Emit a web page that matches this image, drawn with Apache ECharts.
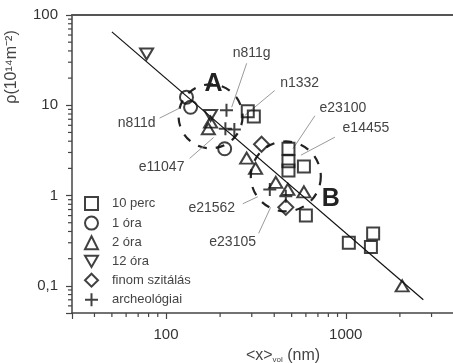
<!DOCTYPE html>
<html>
<head>
<meta charset="utf-8">
<script src="https://cdn.jsdelivr.net/npm/echarts@6/dist/echarts.min.js"></script>
<style>
    html, body { margin: 0; padding: 0; background: #fff; }
    #chart { width: 453px; height: 363px; }
</style>
</head>
<body>
<div id="chart"></div>
<script>
// mért pontok: [<x>vol (nm), rho (10^14 m^-2)]
const perc10 = [[285, 8.6], [308, 7.5], [480, 3.3], [480, 2.4], [480, 1.9], [585, 2.1], [600, 0.6], [1040, 0.30], [1420, 0.38], [1380, 0.27]]
const ora1 = [[130, 12.3], [137, 9.5], [212, 3.3]]
const ora2 = [[177, 6.5], [172, 5.5], [281, 2.6], [315, 2.0], [408, 1.4], [476, 1.17], [585, 1.1], [2060, 0.1]]
const ora12 = [[78, 37], [177, 7.7]]
const szitalas = [[340, 3.7], [464, 0.74]]
const archeo = [[217, 8.8], [214, 5.5], [240, 5.4], [378, 1.17], [464, 0.98]]
// illesztett egyenes
const fitLine = [[50, 65], [2700, 0.07]]

// minta feliratok és a vonal végpontja
const sampleNames = ['n811g', 'n1332', 'e23100', 'e14455', 'n811d', 'e11047', 'e21562', 'e23105']
const samplePoints = [[232, 9.5], [274, 7.7], [508, 3.3], [563, 2.8], [119, 9.3], [184, 4.4], [324, 0.97], [382, 0.74]]

// csoportok (A, B)
const groupNames = ['A', 'B']
const groupCenters = [[177, 7.55], [464, 1.63]]

// tengelyek
const xMin = 30, xMax = 4000, yMin = 0.05, yMax = 100
const xMinorTicks = [40, 50, 60, 70, 80, 90, 200, 300, 400, 500, 600, 700, 800, 900, 2000, 3000]
const yMinorTicks = [0.06, 0.07, 0.08, 0.09, 0.2, 0.3, 0.4, 0.5, 0.6, 0.7, 0.8, 0.9,
    2, 3, 4, 5, 6, 7, 8, 9, 20, 30, 40, 50, 60, 70, 80, 90]

// elrendezés: [vonal kezdete dx, dy, felirat dx, dy] pixelben
const labelLayout = [[15, -44, 20, -54], [30, -25, 55, -32], [22, -33, 50, -41], [34, -18, 65, -27],
    [-20, 10, -43, 15], [-24, 21, -52, 30], [-15, 7, -46, 11], [-12, 26, -38, 35]]
const groupLayout = [[32, 3, -32], [35, 45, 23]] // sugár, betű dx, dy

const font = '"Liberation Sans", Arial, Helvetica, sans-serif'
const ink = '#111'

function powLabel (v) {
    let l = Math.log10(v)
    let e = Math.round(l)
    if (Math.abs(l - e) > 1e-6) return ''
    return e >= 0 ? String(Math.pow(10, e)) : '0,' + '0'.repeat(-e - 1) + '1'
}

let tickData = xMinorTicks.map(v => [v, yMin, 0]).concat(yMinorTicks.map(v => [xMin, v, 1]))

function scatter (name, data, symbol, size) {
    return {
        name: name,
        type: 'scatter',
        data: data,
        symbol: symbol,
        symbolSize: size,
        z: 5,
        itemStyle: { color: 'rgba(0,0,0,0)', borderColor: ink, borderWidth: 2 }
    }
}

let myChart = echarts.init(document.getElementById('chart'))
myChart.setOption({
    animation: false,
    grid: { left: 72, top: 15, right: -1, bottom: 50, containLabel: false, outerBoundsMode: 'none' },
    legend: {
        orient: 'vertical',
        left: 84,
        top: 196,
        padding: 0,
        itemWidth: 13,
        itemHeight: 13,
        itemGap: 4.6,
        itemStyle: { color: 'rgba(0,0,0,0)', borderColor: ink, borderWidth: 2 },
        textStyle: { fontSize: 13, lineHeight: 13, color: '#444', fontFamily: font, padding: [0, 0, 0, 9] },
        data: ['10 perc', '1 óra', '2 óra', '12 óra', 'finom szitálás', 'archeológiai']
    },
    xAxis: [
        {
            type: 'log',
            logBase: 10,
            min: xMin,
            max: xMax,
            name: '<x>{sub|vol} (nm)',
            nameLocation: 'middle',
            nameGap: 34,
            nameTextStyle: {
                fontSize: 16, color: '#444', fontFamily: font, padding: [0, 0, 0, 40],
                rich: { sub: { fontSize: 8, fontFamily: font, color: '#444', padding: [9, 0, 0, 0] } }
            },
            axisLine: { show: true, lineStyle: { color: '#444', width: 1.5 } },
            axisTick: { show: true, length: 6, lineStyle: { color: '#444', width: 1.2 } },
            axisLabel: { fontSize: 15, color: '#333', fontFamily: font, margin: 14, formatter: powLabel },
            splitLine: { show: false }
        },
        {
            type: 'log',
            position: 'top',
            min: xMin,
            max: xMax,
            axisLine: { show: true, lineStyle: { color: '#555', width: 2 } },
            axisTick: { show: false },
            axisLabel: { show: false },
            splitLine: { show: false }
        }
    ],
    yAxis: {
        type: 'log',
        logBase: 10,
        min: yMin,
        max: yMax,
        axisLine: { show: true, lineStyle: { color: '#444', width: 1.5 } },
        axisTick: { show: true, length: 6, lineStyle: { color: '#444', width: 1.2 } },
        axisLabel: { fontSize: 15, color: '#333', fontFamily: font, margin: 14, formatter: powLabel },
        splitLine: { show: false }
    },
    graphic: [{
        type: 'text',
        x: 12,
        y: 67,
        rotation: Math.PI / 2,
        style: { text: 'ρ(10¹⁴m⁻²)', fontSize: 16, fontFamily: font, fill: '#444', align: 'center', verticalAlign: 'middle' }
    }],
    series: [
        {
            // kis osztásvonalak
            type: 'custom',
            clip: false,
            silent: true,
            data: tickData,
            encode: { x: 0, y: 1 },
            renderItem: function (params, api) {
                let p = api.coord([api.value(0), api.value(1)])
                let vertical = api.value(2) === 0
                return {
                    type: 'line',
                    shape: vertical
                        ? { x1: p[0], y1: p[1], x2: p[0], y2: p[1] + 4 }
                        : { x1: p[0] - 4, y1: p[1], x2: p[0], y2: p[1] },
                    style: { stroke: '#444', lineWidth: 1.2 }
                }
            }
        },
        {
            // szaggatott körök
            type: 'custom',
            clip: false,
            silent: true,
            z: 3,
            data: groupCenters,
            encode: { x: 0, y: 1 },
            renderItem: function (params, api) {
                let i = params.dataIndex
                let p = api.coord([api.value(0), api.value(1)])
                let g = groupLayout[i]
                return {
                    type: 'group',
                    children: [
                        {
                            type: 'circle',
                            shape: { cx: p[0], cy: p[1], r: g[0] },
                            style: { fill: 'none', stroke: '#222', lineWidth: 2.2, lineDash: [9, 9] }
                        },
                        {
                            type: 'text',
                            x: p[0] + g[1],
                            y: p[1] + g[2],
                            style: {
                                text: groupNames[i], fontSize: 25, fontWeight: 'bold', fontFamily: font,
                                fill: '#222', align: 'center', verticalAlign: 'middle'
                            }
                        }
                    ]
                }
            }
        },
        {
            // minta feliratok
            type: 'custom',
            clip: false,
            silent: true,
            z: 4,
            data: samplePoints,
            encode: { x: 0, y: 1 },
            renderItem: function (params, api) {
                let i = params.dataIndex
                let p = api.coord([api.value(0), api.value(1)])
                let o = labelLayout[i]
                return {
                    type: 'group',
                    children: [
                        {
                            type: 'line',
                            shape: { x1: p[0], y1: p[1], x2: p[0] + o[0], y2: p[1] + o[1] },
                            style: { stroke: '#999', lineWidth: 1 }
                        },
                        {
                            type: 'text',
                            x: p[0] + o[2],
                            y: p[1] + o[3],
                            style: {
                                text: sampleNames[i], fontSize: 14, fontFamily: font,
                                fill: '#444', align: 'center', verticalAlign: 'middle'
                            }
                        }
                    ]
                }
            }
        },
        {
            type: 'line',
            data: fitLine,
            symbol: 'none',
            z: 4,
            lineStyle: { color: ink, width: 1.2 }
        },
        scatter('10 perc', perc10, 'rect', 12),
        scatter('1 óra', ora1, 'circle', 13),
        scatter('2 óra', ora2, 'triangle', [13, 11]),
        scatter('12 óra', ora12, 'path://M0,0L10,0L5,8.7Z', [13, 11]),
        scatter('finom szitálás', szitalas, 'diamond', 15),
        scatter('archeológiai', archeo, 'path://M5,0L5,10M0,5L10,5', 13)
    ]
})
window.addEventListener('resize', function () {
    myChart.resize()
})
</script>
</body>
</html>
